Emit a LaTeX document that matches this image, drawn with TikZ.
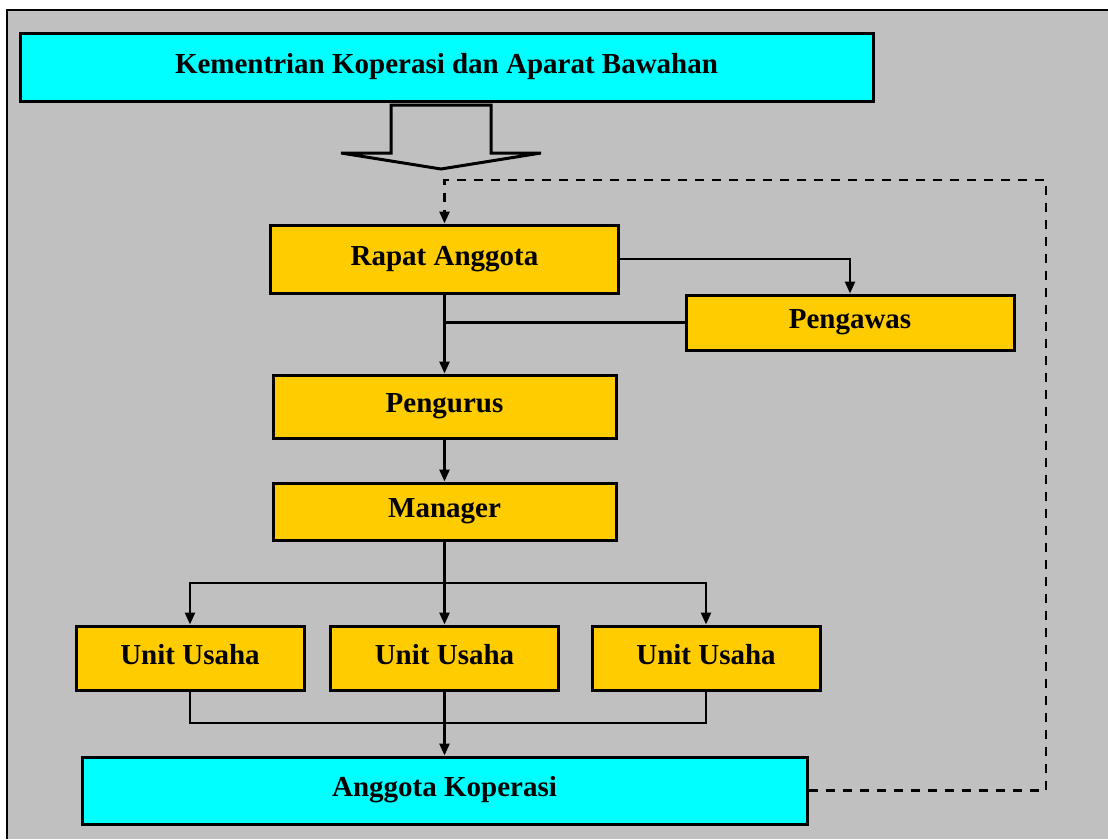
\documentclass[tikz,border=0pt]{standalone}
\usepackage{fontspec}
\setmainfont{Liberation Serif}
\usepackage{xcolor}
\usetikzlibrary{arrows.meta,positioning}

\definecolor{kopcyan}{HTML}{00FFFF}
\definecolor{kopyellow}{HTML}{FFCC00}
\definecolor{kopgray}{HTML}{C0C0C0}

\begin{document}
\begin{tikzpicture}[x=1pt,y=-1pt,
    box/.style={draw,line width=3pt,inner xsep=0pt,inner ysep=0pt,
      text height=21pt,text depth=9pt,
      font=\fontsize{29}{34}\selectfont\bfseries},
    cyanbox/.style={box,fill=kopcyan},
    yellowbox/.style={box,fill=kopyellow},
    conn/.style={line width=2.5pt,-{Triangle[length=12pt,width=10pt]}},
    plain/.style={line width=2.5pt},
    dashline/.style={line width=2.5pt,dash pattern=on 9pt off 8pt,
      -{Triangle[length=12pt,width=10pt]}}]
    \useasboundingbox (0,0) rectangle (1108,839);
    % background panel
    \fill[kopgray] (7,10) rectangle (1108,839);
    \draw[line width=2pt] (7,839) -- (7,10) -- (1108,10);

    \node[cyanbox,minimum width=853pt,minimum height=68pt] (kem) at (446.5,67) {Kementrian Koperasi dan Aparat Bawahan};
    \draw[line width=3pt,line join=miter] (391,105) -- (391,153) -- (341,153) -- (441,169) -- (541,153) -- (491,153) -- (491,105) -- cycle;

    \node[yellowbox,minimum width=348pt,minimum height=68pt] (rapat) at (444.5,259) {Rapat Anggota};
    \node[yellowbox,minimum width=328pt,minimum height=55pt] (pengawas) at (850,322.5) {Pengawas};
    \node[yellowbox,minimum width=343pt,minimum height=63pt] (pengurus) at (444.5,406.5) {Pengurus};
    \node[yellowbox,minimum width=343pt,minimum height=57pt] (manager) at (444.5,511.5) {Manager};
    \node[yellowbox,minimum width=228pt,minimum height=64pt] (unit1) at (190,658) {Unit Usaha};
    \node[yellowbox,minimum width=228pt,minimum height=64pt] (unit2) at (444.5,658) {Unit Usaha};
    \node[yellowbox,minimum width=228pt,minimum height=64pt] (unit3) at (706,658) {Unit Usaha};
    \node[cyanbox,minimum width=725pt,minimum height=67pt] (anggota) at (444.5,790.5) {Anggota Koperasi};

    \coordinate (split) at (444.5,583);
    \coordinate (join) at (444.5,723);
    \coordinate (loop) at (1046,180);

    \draw[conn] (rapat.east) -| (pengawas.north);
    \draw[plain] (pengawas.west) -- (pengawas.west -| rapat.south);
    \draw[conn] (rapat.south) -- (pengurus.north);
    \draw[conn] (pengurus.south) -- (manager.north);
    \draw[plain] (manager.south) -- (split);
    \foreach \u in {unit1,unit2,unit3}{
        \draw[conn] (split) -| (\u.north);
        \draw[plain] (\u.south) |- (join);
    }
    \draw[conn] (join) -- (anggota.north);
    \draw[dashline] (anggota.east) -| (loop) -| (rapat.north);
\end{tikzpicture}
\end{document}
